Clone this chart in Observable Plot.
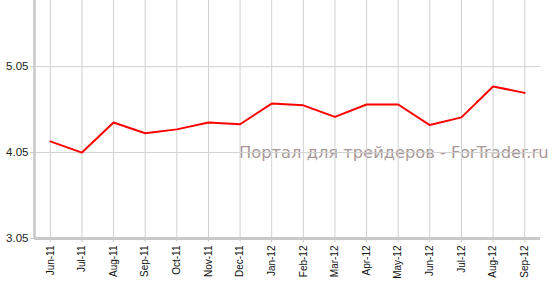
<!DOCTYPE html>
<html>
<head>
<meta charset="utf-8">
<script src="https://cdn.jsdelivr.net/npm/d3@7"></script>
<script src="https://cdn.jsdelivr.net/npm/@observablehq/plot@0.6"></script>
<style>
  html, body { margin: 0; padding: 0; background: #fff; }
  #chart svg { display: block; }
</style>
</head>
<body>
<div id="chart"></div>
<script>
const months = ["Jun-11","Jul-11","Aug-11","Sep-11","Oct-11","Nov-11","Dec-11","Jan-12","Feb-12","Mar-12","Apr-12","May-12","Jun-12","Jul-12","Aug-12","Sep-12"];
const values = [4.18, 4.05, 4.40, 4.275, 4.32, 4.40, 4.38, 4.62, 4.60, 4.465, 4.61, 4.61, 4.37, 4.46, 4.82, 4.745];
const yTicks = [3.05, 4.05, 5.05];
const watermark = "Портал для трейдеров - ForTrader.ru";

const data = months.map((m, i) => ({i, month: m, value: values[i]}));
const idx = months.map((_, i) => i);

const plot = Plot.plot({
  width: 554,
  height: 282,
  marginLeft: 34,
  marginRight: 14,
  marginTop: 0,
  marginBottom: 44,
  style: {fontFamily: "Liberation Sans, Arial, sans-serif", background: "#fff", overflow: "visible"},
  x: {type: "linear", domain: [-0.5, months.length - 0.5]},
  y: {domain: [3.05, 5.82]},
  marks: [
    Plot.text([watermark], {frameAnchor: "right", textAnchor: "end", dx: 8, dy: 33, fill: "#a89898", fontSize: 16.3, fontFamily: "DejaVu Sans, sans-serif"}),
    Plot.gridX(idx, {stroke: "#d0d0d0", strokeOpacity: 1, strokeWidth: 1}),
    Plot.gridY(yTicks, {stroke: "#d0d0d0", strokeOpacity: 1, strokeWidth: 1}),
    Plot.axisY({ticks: yTicks, tickFormat: d3.format(".2f"), tickSize: 4, tickPadding: 2, stroke: "#c8c8c8", fill: "#222", fontSize: 11.5, label: null}),
    Plot.axisX({ticks: idx, tickFormat: i => months[i], tickRotate: -90, tickSize: 4, tickPadding: 3, stroke: "#c8c8c8", fill: "#111", fontSize: 10, label: null}),
    Plot.ruleY([3.05], {stroke: "#c8c8c8", strokeWidth: 3}),
    Plot.ruleX([-0.5], {stroke: "#c8c8c8", strokeWidth: 2.5}),
    Plot.line(data, {x: "i", y: "value", stroke: "#ff0000", strokeWidth: 2})
  ]
});
document.getElementById("chart").appendChild(plot);
</script>
</body>
</html>
